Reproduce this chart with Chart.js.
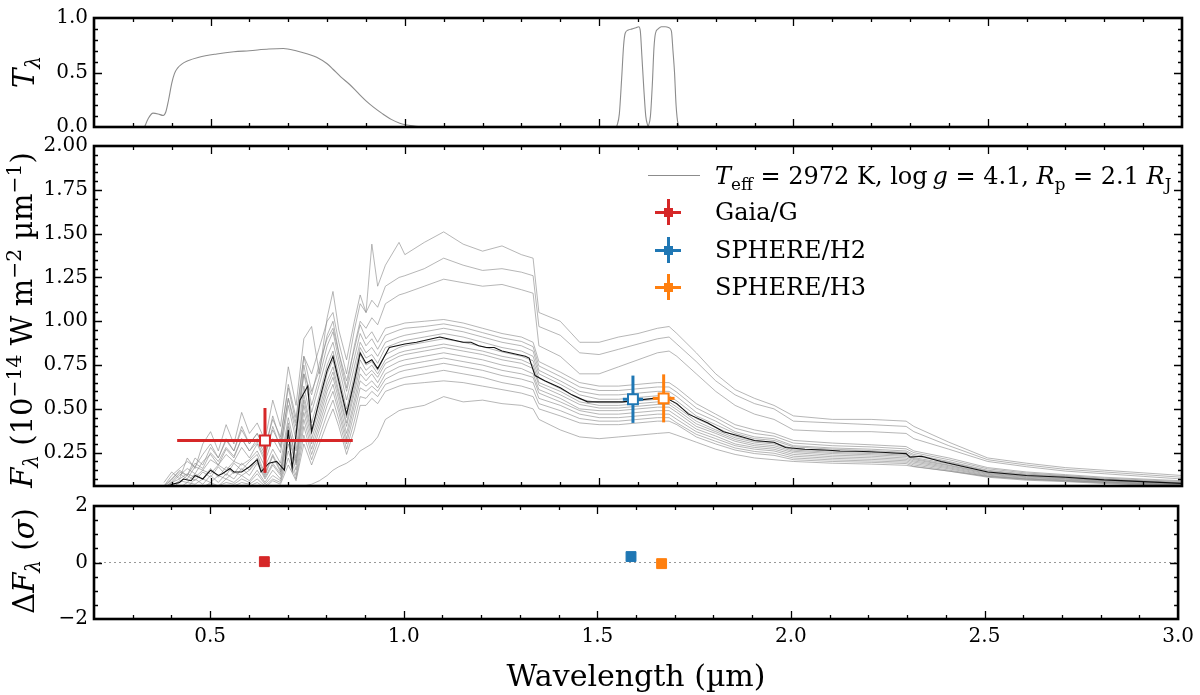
<!DOCTYPE html>
<html lang="en">
<head>
<meta charset="UTF-8">
<title>Spectral fit - Gaia/G and SPHERE H2/H3</title>
<script src="https://cdn.jsdelivr.net/npm/chart.js"></script>
<style>
  body { margin: 0; background: #fff; }
  .wrap { position: relative; width: 1200px; height: 695px; font-family: "DejaVu Serif", serif; color: #000; overflow: hidden; }
  .wrap canvas { position: absolute; left: 0; top: 0; }
  .ytitle { position: absolute; white-space: nowrap; transform: translate(-50%, -50%) rotate(-90deg); font-size: 29px; line-height: 1; }
  sub, sup { font-size: 70%; line-height: 0; }
  .lg-row { position: absolute; left: 0; height: 0; }
  .lg-line { position: absolute; left: 648px; top: -1px; width: 52px; height: 0; border-top: 1.2px solid #8c8c8c; }
  .lg-icon { position: absolute; left: 655px; top: -13px; width: 26px; height: 26px; }
  .lg-icon .h { position: absolute; left: 0; top: 11.5px; width: 26px; height: 3px; }
  .lg-icon .v { position: absolute; left: 11.5px; top: 0; width: 3px; height: 26px; }
  .lg-icon .s { position: absolute; left: 8.5px; top: 8.5px; width: 9px; height: 9px; }
  .lg-text { position: absolute; left: 715px; top: 0; transform: translateY(-50%); white-space: nowrap; font-size: 24px; }
</style>
</head>
<body>
<div class="wrap" id="wrap">
  <canvas id="transChart" width="1200" height="695"></canvas>
  <canvas id="fluxChart" width="1200" height="695"></canvas>
  <canvas id="residChart" width="1200" height="695"></canvas>

  <div class="ytitle" style="left:24px; top:72px;"><i>T</i><sub><i>λ</i></sub></div>
  <div class="ytitle" style="left:22px; top:320px;"><i>F</i><sub><i>λ</i></sub> (10<sup>−14</sup> W m<sup>−2</sup> µm<sup>−1</sup>)</div>
  <div class="ytitle" style="left:24px; top:561px;">Δ<i>F</i><sub><i>λ</i></sub> (<i>σ</i>)</div>
  <div id="legend"></div>
</div>

<script>
  // ---- data ----
  const xTickValues = [0.5, 1.0, 1.5, 2.0, 2.5, 3.0];
  const transTickValues = [0.0, 0.5, 1.0];
  const fluxTickValues = [0.25, 0.50, 0.75, 1.00, 1.25, 1.50, 1.75, 2.00];
  const residTickValues = [-2, 0, 2];

  // filter transmission curves
  const gaiaWave = [0.33, 0.34, 0.352, 0.365, 0.378, 0.385, 0.392, 0.40, 0.407, 0.415, 0.425, 0.44, 0.47, 0.516, 0.56,
                    0.60, 0.65, 0.687, 0.72, 0.75, 0.773, 0.80, 0.815, 0.835, 0.858, 0.88, 0.90, 0.92, 0.943, 0.965,
                    0.987, 1.02, 1.05];
  const gaiaTrans = [0.0, 0.08, 0.127, 0.12, 0.106, 0.14, 0.25, 0.40, 0.49, 0.54, 0.575, 0.605, 0.64, 0.67, 0.69,
                     0.70, 0.715, 0.72, 0.70, 0.67, 0.64, 0.58, 0.53, 0.46, 0.39, 0.31, 0.24, 0.18, 0.12, 0.07,
                     0.035, 0.01, 0.0];
  const h2Wave = [1.545, 1.552, 1.558, 1.563, 1.567, 1.575, 1.585, 1.595, 1.602, 1.606, 1.610, 1.615, 1.620, 1.626];
  const h2Trans = [0.0, 0.12, 0.45, 0.75, 0.86, 0.89, 0.90, 0.91, 0.92, 0.88, 0.65, 0.35, 0.10, 0.0];
  const h3Wave = [1.626, 1.632, 1.637, 1.641, 1.645, 1.652, 1.660, 1.670, 1.680, 1.686, 1.690, 1.694, 1.698, 1.703, 1.708];
  const h3Trans = [0.0, 0.10, 0.40, 0.72, 0.86, 0.90, 0.92, 0.92, 0.91, 0.88, 0.70, 0.50, 0.20, 0.03, 0.0];

  // best-fit model spectrum
  const waveFit = [0.38, 0.40, 0.42, 0.43, 0.45, 0.46, 0.48, 0.50, 0.52, 0.53,
                   0.55, 0.56, 0.58, 0.60, 0.62, 0.63, 0.65, 0.67, 0.69, 0.70,
                   0.71, 0.73, 0.75, 0.76, 0.78, 0.80, 0.815, 0.83, 0.85, 0.87,
                   0.885, 0.90, 0.915, 0.93, 0.96, 1.00, 1.03, 1.05, 1.07, 1.09,
                   1.11, 1.13, 1.15, 1.17, 1.19, 1.21, 1.23, 1.25, 1.27, 1.29,
                   1.31, 1.32, 1.335, 1.36, 1.38, 1.40, 1.43, 1.47, 1.52, 1.56,
                   1.60, 1.64, 1.67, 1.70, 1.73, 1.78, 1.82, 1.86, 1.90, 1.95,
                   1.98, 2.03, 2.08, 2.12, 2.16, 2.20, 2.25, 2.29, 2.30, 2.33,
                   2.38, 2.44, 2.50, 2.55, 2.60, 2.70, 2.80, 2.90, 3.00];
  const fluxFit = [0.04, 0.07, 0.08, 0.10, 0.09, 0.12, 0.10, 0.15, 0.12, 0.13,
                   0.16, 0.14, 0.14, 0.17, 0.21, 0.14, 0.19, 0.20, 0.15, 0.38,
                   0.16, 0.55, 0.63, 0.37, 0.55, 0.72, 0.80, 0.66, 0.47, 0.66,
                   0.82, 0.76, 0.78, 0.73, 0.85, 0.87, 0.88, 0.89, 0.90, 0.91,
                   0.90, 0.89, 0.88, 0.88, 0.86, 0.85, 0.85, 0.83, 0.82, 0.81,
                   0.80, 0.79, 0.69, 0.66, 0.64, 0.62, 0.58, 0.54, 0.54, 0.54,
                   0.55, 0.56, 0.565, 0.53, 0.47, 0.42, 0.37, 0.345, 0.32, 0.31,
                   0.28, 0.27, 0.265, 0.26, 0.258, 0.255, 0.25, 0.245, 0.225, 0.23,
                   0.20, 0.17, 0.14, 0.13, 0.12, 0.11, 0.095, 0.085, 0.075];

  // posterior sample spectra (gray)
  const waveModel = [0.38, 0.40, 0.42, 0.44, 0.46, 0.48, 0.50, 0.52, 0.54, 0.56,
                     0.58, 0.60, 0.62, 0.64, 0.66, 0.68, 0.70, 0.72, 0.74, 0.76,
                     0.78, 0.80, 0.815, 0.83, 0.85, 0.87, 0.885, 0.90, 0.915, 0.93,
                     0.95, 0.985, 1.00, 1.05, 1.10, 1.15, 1.20, 1.25, 1.30, 1.33,
                     1.345, 1.40, 1.45, 1.50, 1.55, 1.60, 1.65, 1.68, 1.70, 1.75,
                     1.80, 1.85, 1.90, 1.95, 2.00, 2.10, 2.20, 2.29, 2.31, 2.40,
                     2.50, 2.60, 2.70, 2.80, 2.90, 3.00];
  const sampleH1 = [0.08, 0.14, 0.10, 0.22, 0.16, 0.30, 0.37, 0.26, 0.41, 0.30,
                    0.48, 0.36, 0.42, 0.32, 0.55, 0.40, 0.74, 0.52, 0.90, 0.97,
                    0.70, 1.02, 1.17, 0.95, 0.78, 1.00, 1.15, 1.05, 1.44, 1.20,
                    1.32, 1.45, 1.38, 1.45, 1.51, 1.44, 1.40, 1.43, 1.38, 1.36,
                    1.05, 1.00, 0.88, 0.88, 0.91, 0.93, 0.96, 0.97, 0.93, 0.82,
                    0.70, 0.61, 0.56, 0.52, 0.46, 0.44, 0.44, 0.43, 0.40, 0.31,
                    0.22, 0.19, 0.165, 0.15, 0.135, 0.12];
  const sampleH2 = [0.06, 0.10, 0.15, 0.12, 0.22, 0.18, 0.28, 0.22, 0.32, 0.26,
                    0.40, 0.30, 0.36, 0.26, 0.46, 0.32, 0.64, 0.45, 0.80, 0.70,
                    0.85, 1.00, 1.05, 0.88, 0.70, 0.95, 1.10, 1.05, 1.12, 1.08,
                    1.20, 1.25, 1.26, 1.30, 1.36, 1.32, 1.29, 1.30, 1.28, 1.26,
                    0.97, 0.92, 0.82, 0.81, 0.84, 0.87, 0.90, 0.91, 0.87, 0.77,
                    0.66, 0.58, 0.53, 0.50, 0.43, 0.42, 0.41, 0.40, 0.37, 0.29,
                    0.21, 0.18, 0.155, 0.14, 0.125, 0.11];
  const sampleH3 = [0.05, 0.08, 0.12, 0.16, 0.13, 0.20, 0.24, 0.18, 0.27, 0.22,
                    0.33, 0.26, 0.31, 0.22, 0.40, 0.28, 0.56, 0.40, 0.70, 0.58,
                    0.76, 0.90, 0.96, 0.82, 0.62, 0.86, 1.00, 0.96, 1.02, 0.98,
                    1.10, 1.15, 1.16, 1.20, 1.24, 1.22, 1.20, 1.21, 1.18, 1.16,
                    0.86, 0.80, 0.70, 0.70, 0.74, 0.78, 0.82, 0.83, 0.80, 0.70,
                    0.60, 0.52, 0.47, 0.44, 0.38, 0.37, 0.37, 0.36, 0.33, 0.27,
                    0.20, 0.17, 0.145, 0.13, 0.115, 0.10];
  const sampleC1 = [0.06, 0.12, 0.16, 0.20, 0.17, 0.24, 0.30, 0.22, 0.33, 0.26,
                    0.38, 0.30, 0.36, 0.28, 0.44, 0.34, 0.62, 0.42, 0.80, 0.60,
                    0.72, 0.92, 1.00, 0.82, 0.66, 0.84, 0.98, 0.90, 0.94, 0.88,
                    0.96, 0.98, 0.99, 1.00, 1.01, 0.99, 0.96, 0.93, 0.91, 0.88,
                    0.77, 0.71, 0.65, 0.63, 0.63, 0.64, 0.65, 0.65, 0.62, 0.53,
                    0.47, 0.41, 0.38, 0.36, 0.32, 0.305, 0.295, 0.285, 0.26, 0.22,
                    0.165, 0.14, 0.125, 0.11, 0.10, 0.09];
  const sampleC2 = [0.04, 0.09, 0.13, 0.10, 0.17, 0.15, 0.21, 0.18, 0.24, 0.20,
                    0.28, 0.22, 0.30, 0.20, 0.33, 0.25, 0.52, 0.32, 0.70, 0.48,
                    0.64, 0.80, 0.88, 0.74, 0.55, 0.74, 0.88, 0.82, 0.85, 0.80,
                    0.88, 0.91, 0.92, 0.94, 0.96, 0.94, 0.91, 0.88, 0.86, 0.83,
                    0.72, 0.66, 0.60, 0.58, 0.58, 0.59, 0.60, 0.60, 0.57, 0.48,
                    0.43, 0.37, 0.34, 0.33, 0.29, 0.277, 0.27, 0.26, 0.24, 0.20,
                    0.15, 0.128, 0.116, 0.10, 0.09, 0.08];
  const sampleC3 = [0.03, 0.05, 0.08, 0.12, 0.09, 0.14, 0.11, 0.17, 0.12, 0.19,
                    0.15, 0.20, 0.24, 0.13, 0.24, 0.15, 0.42, 0.20, 0.55, 0.36,
                    0.50, 0.66, 0.74, 0.60, 0.42, 0.62, 0.78, 0.72, 0.75, 0.70,
                    0.78, 0.82, 0.83, 0.85, 0.87, 0.85, 0.83, 0.80, 0.78, 0.75,
                    0.65, 0.60, 0.54, 0.52, 0.52, 0.53, 0.54, 0.54, 0.51, 0.43,
                    0.38, 0.335, 0.31, 0.30, 0.265, 0.252, 0.245, 0.236, 0.216, 0.18,
                    0.135, 0.115, 0.105, 0.09, 0.082, 0.072];
  const sampleC4 = [0.02, 0.03, 0.06, 0.05, 0.10, 0.07, 0.12, 0.08, 0.13, 0.10,
                    0.16, 0.12, 0.19, 0.10, 0.18, 0.12, 0.34, 0.18, 0.48, 0.30,
                    0.44, 0.60, 0.68, 0.55, 0.36, 0.55, 0.70, 0.66, 0.70, 0.65,
                    0.73, 0.77, 0.78, 0.80, 0.82, 0.80, 0.78, 0.75, 0.73, 0.70,
                    0.61, 0.56, 0.50, 0.49, 0.49, 0.50, 0.51, 0.51, 0.48, 0.40,
                    0.36, 0.315, 0.29, 0.28, 0.25, 0.236, 0.23, 0.22, 0.203, 0.17,
                    0.127, 0.108, 0.099, 0.086, 0.077, 0.068];
  const sampleC5 = [0.01, 0.02, 0.03, 0.04, 0.05, 0.06, 0.07, 0.06, 0.08, 0.07,
                    0.10, 0.08, 0.13, 0.07, 0.12, 0.09, 0.26, 0.12, 0.40, 0.24,
                    0.38, 0.52, 0.60, 0.48, 0.30, 0.48, 0.62, 0.60, 0.63, 0.60,
                    0.67, 0.71, 0.72, 0.74, 0.76, 0.74, 0.72, 0.69, 0.67, 0.65,
                    0.56, 0.52, 0.47, 0.45, 0.45, 0.46, 0.47, 0.47, 0.44, 0.37,
                    0.33, 0.29, 0.27, 0.26, 0.23, 0.218, 0.212, 0.204, 0.188, 0.158,
                    0.118, 0.10, 0.092, 0.08, 0.072, 0.064];
  const sampleC6 = [0.01, 0.01, 0.02, 0.02, 0.03, 0.03, 0.04, 0.04, 0.05, 0.05,
                    0.06, 0.06, 0.08, 0.05, 0.09, 0.07, 0.18, 0.09, 0.30, 0.18,
                    0.30, 0.42, 0.50, 0.40, 0.24, 0.38, 0.52, 0.52, 0.56, 0.53,
                    0.60, 0.63, 0.64, 0.65, 0.66, 0.65, 0.63, 0.61, 0.59, 0.57,
                    0.50, 0.46, 0.42, 0.41, 0.41, 0.42, 0.43, 0.43, 0.41, 0.34,
                    0.30, 0.265, 0.245, 0.235, 0.21, 0.20, 0.195, 0.188, 0.172, 0.145,
                    0.11, 0.093, 0.085, 0.074, 0.066, 0.058];
  const sampleC7 = [0.05, 0.10, 0.14, 0.12, 0.19, 0.16, 0.25, 0.20, 0.28, 0.23,
                    0.33, 0.26, 0.33, 0.24, 0.38, 0.29, 0.56, 0.36, 0.75, 0.52,
                    0.68, 0.86, 0.94, 0.78, 0.60, 0.79, 0.93, 0.86, 0.90, 0.84,
                    0.92, 0.95, 0.96, 0.97, 0.985, 0.965, 0.935, 0.905, 0.885, 0.855,
                    0.745, 0.685, 0.625, 0.605, 0.605, 0.615, 0.625, 0.625, 0.595, 0.505,
                    0.45, 0.39, 0.36, 0.345, 0.305, 0.29, 0.283, 0.272, 0.25, 0.21,
                    0.158, 0.134, 0.12, 0.105, 0.095, 0.085];
  const sampleC8 = [0.04, 0.08, 0.10, 0.13, 0.11, 0.15, 0.13, 0.18, 0.15, 0.20,
                    0.18, 0.21, 0.26, 0.17, 0.27, 0.19, 0.45, 0.26, 0.63, 0.42,
                    0.58, 0.75, 0.83, 0.69, 0.50, 0.69, 0.85, 0.79, 0.81, 0.76,
                    0.85, 0.88, 0.89, 0.91, 0.93, 0.91, 0.88, 0.85, 0.83, 0.80,
                    0.70, 0.64, 0.58, 0.555, 0.555, 0.565, 0.575, 0.575, 0.545, 0.46,
                    0.41, 0.36, 0.33, 0.32, 0.283, 0.27, 0.262, 0.252, 0.232, 0.195,
                    0.145, 0.124, 0.113, 0.098, 0.088, 0.078];
  const sampleC9 = [0.03, 0.06, 0.09, 0.08, 0.13, 0.10, 0.16, 0.11, 0.17, 0.13,
                    0.19, 0.15, 0.22, 0.12, 0.23, 0.14, 0.40, 0.22, 0.58, 0.38,
                    0.53, 0.70, 0.78, 0.64, 0.45, 0.65, 0.81, 0.75, 0.77, 0.72,
                    0.81, 0.85, 0.86, 0.88, 0.90, 0.88, 0.855, 0.825, 0.80, 0.775,
                    0.675, 0.615, 0.555, 0.535, 0.535, 0.545, 0.555, 0.555, 0.525, 0.445,
                    0.395, 0.345, 0.317, 0.307, 0.272, 0.259, 0.252, 0.242, 0.222, 0.187,
                    0.139, 0.119, 0.109, 0.094, 0.084, 0.074];
  const sampleC10 = [0.02, 0.04, 0.05, 0.08, 0.07, 0.10, 0.08, 0.12, 0.10, 0.14,
                     0.12, 0.15, 0.20, 0.11, 0.19, 0.13, 0.36, 0.19, 0.52, 0.33,
                     0.47, 0.63, 0.71, 0.58, 0.40, 0.59, 0.74, 0.69, 0.72, 0.68,
                     0.76, 0.80, 0.81, 0.83, 0.85, 0.83, 0.81, 0.78, 0.76, 0.73,
                     0.635, 0.58, 0.525, 0.505, 0.505, 0.515, 0.525, 0.525, 0.495, 0.415,
                     0.37, 0.325, 0.30, 0.29, 0.258, 0.245, 0.238, 0.229, 0.21, 0.176,
                     0.131, 0.112, 0.102, 0.089, 0.08, 0.07];
  const sampleC11 = [0.01, 0.02, 0.04, 0.03, 0.06, 0.05, 0.08, 0.06, 0.10, 0.08,
                     0.12, 0.09, 0.15, 0.08, 0.15, 0.10, 0.30, 0.15, 0.44, 0.27,
                     0.41, 0.56, 0.64, 0.51, 0.33, 0.52, 0.66, 0.63, 0.66, 0.62,
                     0.70, 0.74, 0.75, 0.77, 0.79, 0.77, 0.75, 0.72, 0.70, 0.68,
                     0.59, 0.54, 0.49, 0.47, 0.47, 0.48, 0.49, 0.49, 0.46, 0.385,
                     0.345, 0.30, 0.28, 0.27, 0.24, 0.227, 0.221, 0.212, 0.196, 0.164,
                     0.122, 0.104, 0.095, 0.083, 0.074, 0.066];
  const sampleC12 = [0.01, 0.01, 0.02, 0.02, 0.03, 0.04, 0.05, 0.05, 0.06, 0.06,
                     0.08, 0.07, 0.10, 0.06, 0.10, 0.08, 0.22, 0.10, 0.35, 0.21,
                     0.34, 0.47, 0.55, 0.44, 0.27, 0.43, 0.57, 0.56, 0.60, 0.57,
                     0.64, 0.67, 0.68, 0.70, 0.72, 0.70, 0.68, 0.65, 0.63, 0.61,
                     0.53, 0.49, 0.445, 0.43, 0.43, 0.44, 0.45, 0.45, 0.42, 0.355,
                     0.315, 0.277, 0.257, 0.247, 0.22, 0.209, 0.203, 0.196, 0.18, 0.151,
                     0.114, 0.097, 0.088, 0.077, 0.069, 0.061];
  const sampleL = [0.00, 0.00, 0.01, 0.01, 0.01, 0.01, 0.02, 0.02, 0.02, 0.02,
                   0.03, 0.03, 0.03, 0.03, 0.04, 0.04, 0.05, 0.05, 0.06, 0.07,
                   0.09, 0.12, 0.15, 0.17, 0.19, 0.22, 0.26, 0.28, 0.30, 0.34,
                   0.44, 0.49, 0.50, 0.52, 0.57, 0.54, 0.55, 0.53, 0.52, 0.50,
                   0.44, 0.38, 0.34, 0.33, 0.34, 0.35, 0.36, 0.365, 0.35, 0.31,
                   0.27, 0.24, 0.22, 0.21, 0.20, 0.19, 0.185, 0.178, 0.17, 0.145,
                   0.115, 0.10, 0.09, 0.082, 0.075, 0.068];
  const samples = [sampleH1, sampleH2, sampleH3, sampleC1, sampleC2, sampleC3, sampleC4, sampleC5, sampleC6,
                   sampleC7, sampleC8, sampleC9, sampleC10, sampleC11, sampleC12, sampleL];

  // photometry
  const photNames = ['Gaia/G', 'SPHERE/H2', 'SPHERE/H3'];
  const photWave = [0.640, 1.587, 1.666];
  const photWaveErr = [0.226, 0.026, 0.028];
  const photFlux = [0.32, 0.555, 0.56];
  const photFluxErr = [0.185, 0.135, 0.137];
  const residual = [0.03, 0.21, -0.04];
  const zeroLineX = [0.2, 3.0];

  const modelLabel = '<i>T</i><sub>eff</sub> = 2972 K, log\u2009<i>g</i> = 4.1, <i>R</i><sub>p</sub> = 2.1 <i>R</i><sub>J</sub>';

  // ---- styles ----
  const photColors = ['#d62728', '#1f77b4', '#ff7f0e'];
  const grayLine = 'rgba(140,140,140,0.8)';
  Chart.defaults.font.family = '"DejaVu Serif", serif';
  Chart.defaults.color = '#000';

  const pts = (xs, ys) => xs.map((x, i) => ({ x: x, y: ys[i] }));

  function range(a, b, step) {
    const out = [];
    for (let v = a; v <= b + 1e-9; v += step) out.push(+v.toFixed(4));
    return out;
  }

  // frame with inward major/minor ticks on all four sides
  const framePlugin = {
    id: 'frame',
    afterDraw(chart, args, o) {
      const { ctx, chartArea: a, scales: { x, y } } = chart;
      ctx.save();
      ctx.strokeStyle = '#000';
      ctx.lineWidth = 1.3;
      ctx.beginPath();
      const xt = (vals, len) => vals.forEach(v => {
        const p = Math.round(x.getPixelForValue(v)) + 0.5;
        if (p < a.left + 1 || p > a.right - 1) return;
        ctx.moveTo(p, a.bottom); ctx.lineTo(p, a.bottom - len);
        ctx.moveTo(p, a.top); ctx.lineTo(p, a.top + len);
      });
      const yt = (vals, len) => vals.forEach(v => {
        const p = Math.round(y.getPixelForValue(v)) + 0.5;
        if (p < a.top + 1 || p > a.bottom - 1) return;
        ctx.moveTo(a.left, p); ctx.lineTo(a.left + len, p);
        ctx.moveTo(a.right, p); ctx.lineTo(a.right - len, p);
      });
      xt(o.xMajor, 8); xt(o.xMinor, 4);
      yt(o.yMajor, 8); yt(o.yMinor, 4);
      ctx.stroke();
      ctx.lineWidth = 2.6;
      ctx.strokeRect(a.left, a.top, a.right - a.left, a.bottom - a.top);
      ctx.restore();
    }
  };

  const xMinorTicks = range(0.2, 3.0, 0.1);

  function panel(id, padding, yMin, yMax, yTicks, yFmt, yMinor, datasets, showX) {
    const xScale = {
      type: 'linear', min: 0.2, max: 3.0, display: showX,
      grid: { display: false, drawTicks: false }, border: { display: false },
      afterBuildTicks: s => { s.ticks = xTickValues.map(v => ({ value: v })); }
    };
    if (showX) {
      xScale.ticks = { font: { size: 20 }, padding: 6, maxRotation: 0, callback: v => v.toFixed(1) };
      xScale.title = { display: true, text: 'Wavelength (µm)', font: { size: 30, lineHeight: 1 }, padding: { top: 8, bottom: 0 } };
    }
    return new Chart(document.getElementById(id), {
      type: 'line',
      data: { datasets: datasets },
      options: {
        responsive: false,
        animation: false,
        events: [],
        layout: { padding: padding },
        elements: { point: { radius: 0 }, line: { tension: 0 } },
        plugins: {
          legend: { display: false },
          tooltip: { enabled: false },
          frame: { xMajor: xTickValues, xMinor: xMinorTicks, yMajor: yTicks, yMinor: yMinor }
        },
        scales: {
          x: xScale,
          y: {
            type: 'linear', min: yMin, max: yMax,
            grid: { display: false, drawTicks: false }, border: { display: false },
            ticks: { font: { size: 20 }, padding: 6, callback: yFmt },
            afterBuildTicks: s => { s.ticks = yTicks.map(v => ({ value: v })); },
            afterFit: s => { s.width = 94; }
          }
        }
      },
      plugins: [framePlugin]
    });
  }

  // ---- top: filter transmission ----
  const transSets = [[gaiaWave, gaiaTrans], [h2Wave, h2Trans], [h3Wave, h3Trans]].map(([w, t]) => ({
    data: pts(w, t), borderColor: '#8c8c8c', borderWidth: 1.1, cubicInterpolationMode: 'monotone'
  }));
  panel('transChart', { top: 13, bottom: 568, left: 0, right: 18 }, 0, 1, transTickValues,
        v => v.toFixed(1), range(0, 1, 0.1), transSets, false);

  // ---- middle: spectra + photometry ----
  const fluxSets = [];
  photWave.forEach((w, i) => {
    fluxSets.push({ data: [{ x: w, y: photFlux[i] }], showLine: false, pointStyle: 'rect', pointRadius: 7,
                    pointBackgroundColor: '#fff', pointBorderColor: photColors[i], pointBorderWidth: 2, order: 0 });
    fluxSets.push({ data: [{ x: w - photWaveErr[i], y: photFlux[i] }, { x: w + photWaveErr[i], y: photFlux[i] }],
                    borderColor: photColors[i], borderWidth: 3, order: 1 });
    fluxSets.push({ data: [{ x: w, y: photFlux[i] - photFluxErr[i] }, { x: w, y: photFlux[i] + photFluxErr[i] }],
                    borderColor: photColors[i], borderWidth: 3, order: 1 });
  });
  fluxSets.push({ data: pts(waveFit, fluxFit), borderColor: '#111', borderWidth: 1.1, order: 5 });
  samples.forEach(s => fluxSets.push({ data: pts(waveModel, s), borderColor: grayLine, borderWidth: 0.8, order: 10 }));
  panel('fluxChart', { top: 146, bottom: 209, left: 0, right: 18 }, 0.06, 2.0, fluxTickValues,
        v => v.toFixed(2), range(0.1, 2.0, 0.05), fluxSets, false);

  // ---- bottom: residuals ----
  const residSets = photWave.map((w, i) => ({
    data: [{ x: w, y: residual[i] }], showLine: false, pointStyle: 'rect', pointRadius: 7,
    pointBackgroundColor: photColors[i], pointBorderColor: photColors[i], pointBorderWidth: 1, order: 0
  }));
  residSets.push({ data: zeroLineX.map(x => ({ x: x, y: 0 })), borderColor: '#999', borderWidth: 1,
                   borderDash: [2, 3], order: 5 });
  panel('residChart', { top: 506, bottom: 2, left: 0, right: 18 }, -2, 2, residTickValues,
        v => (v < 0 ? '\u2212' + Math.abs(v) : String(v)), range(-2, 2, 0.5), residSets, true);

  // ---- legend ----
  const legend = document.getElementById('legend');
  const rowY = [176, 212, 250, 287];
  let html = '<div class="lg-row" style="top:' + rowY[0] + 'px"><span class="lg-line"></span>' +
             '<span class="lg-text">' + modelLabel + '</span></div>';
  photNames.forEach((name, i) => {
    const c = photColors[i];
    html += '<div class="lg-row" style="top:' + rowY[i + 1] + 'px"><span class="lg-icon">' +
            '<span class="h" style="background:' + c + '"></span><span class="v" style="background:' + c + '"></span>' +
            '<span class="s" style="background:' + c + '"></span></span>' +
            '<span class="lg-text">' + name + '</span></div>';
  });
  legend.innerHTML = html;
</script>
</body>
</html>
